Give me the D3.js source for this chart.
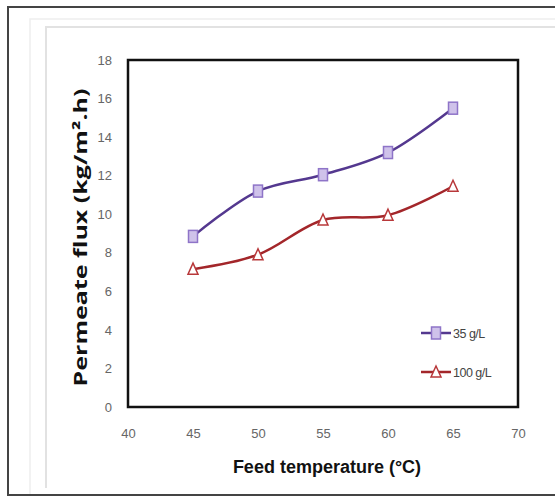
<!DOCTYPE html>
<html>
<head>
<meta charset="utf-8">
<script src="https://cdn.jsdelivr.net/npm/d3@7"></script>
<style>
  body { margin: 0; background: #fff; }
  svg { display: block; }
  .tick text { fill: #666; font-family: 'Liberation Sans Narrow', 'Liberation Sans', Arial, sans-serif; font-size: 13px; }
</style>
</head>
<body>
<div id="chart"></div>
<script>
var temps = [45, 50, 55, 60, 65];
var flux35 = [8.85, 11.2, 12.05, 13.2, 15.5];
var flux100 = [7.15, 7.9, 9.7, 9.95, 11.45];
var xTicks = [40, 45, 50, 55, 60, 65, 70];
var yTicks = [0, 2, 4, 6, 8, 10, 12, 14, 16, 18];

var width = 555, height = 497;
var plotLeft = 128, plotRight = 518, plotTop = 60, plotBottom = 407;

var svg = d3.select('#chart')
    .append('svg')
    .attr('width', width)
    .attr('height', height);

// frames round the picture
svg.append('rect')
    .attr('x', 8).attr('y', 7)
    .attr('width', 560).attr('height', 488)
    .attr('fill', 'none').attr('stroke', '#444').attr('stroke-width', 2);
svg.append('path')
    .attr('d', 'M30,494V19H560')
    .attr('fill', 'none').attr('stroke', '#eee').attr('stroke-width', 1.5);
svg.append('path')
    .attr('d', 'M46,488V27H560')
    .attr('fill', 'none').attr('stroke', '#e2e2e2').attr('stroke-width', 2);

var x = d3.scaleLinear().domain([40, 70]).range([plotLeft, plotRight]);
var y = d3.scaleLinear().domain([0, 18]).range([plotBottom, plotTop]);

svg.append('rect')
    .attr('x', plotLeft).attr('y', plotTop)
    .attr('width', plotRight - plotLeft).attr('height', plotBottom - plotTop)
    .attr('fill', 'none').attr('stroke', '#111').attr('stroke-width', 2.5);

var xAxis = svg.append('g')
    .attr('transform', `translate(0,${plotBottom})`)
    .call(d3.axisBottom(x).tickValues(xTicks).tickSize(0).tickPadding(22));
xAxis.select('.domain').remove();

var yAxis = svg.append('g')
    .attr('transform', `translate(${plotLeft},0)`)
    .call(d3.axisLeft(y).tickValues(yTicks).tickSize(0).tickPadding(16));
yAxis.select('.domain').remove();

var line = d3.line()
    .x(d => x(d[0]))
    .y(d => y(d[1]))
    .curve(d3.curveCatmullRom.alpha(0.5));

var series = [
    { name: '35 g/L', values: flux35, line: '#54388f', stroke: '#8e74c8', fill: '#cfc2ea', shape: 'square' },
    { name: '100 g/L', values: flux100, line: '#a3262a', stroke: '#b8383a', fill: '#fff', shape: 'triangle' }
];

function marker(g, s, cx, cy) {
    if (s.shape === 'square') {
        g.append('rect')
            .attr('x', cx - 4.5).attr('y', cy - 6)
            .attr('width', 9).attr('height', 12)
            .attr('fill', s.fill).attr('stroke', s.stroke).attr('stroke-width', 1.5);
    } else {
        g.append('path')
            .attr('d', `M${cx},${cy - 6}L${cx + 5},${cy + 5}L${cx - 5},${cy + 5}Z`)
            .attr('fill', s.fill).attr('stroke', s.stroke).attr('stroke-width', 1.5);
    }
}

series.forEach(function(s, i) {
    var pts = temps.map((t, j) => [t, s.values[j]]);
    svg.append('path')
        .datum(pts)
        .attr('d', line)
        .attr('fill', 'none')
        .attr('stroke', s.line)
        .attr('stroke-width', 2.5);
    var g = svg.append('g');
    pts.forEach(p => marker(g, s, x(p[0]), y(p[1])));

    // legend
    var ly = 333 + i * 39;
    svg.append('line')
        .attr('x1', 421).attr('x2', 451).attr('y1', ly).attr('y2', ly)
        .attr('stroke', s.line).attr('stroke-width', 2.5);
    marker(svg, s, 436, ly);
    svg.append('text')
        .attr('x', 453).attr('y', ly + 4.5)
        .attr('fill', '#444')
        .style('font-family', "'Liberation Sans Narrow', 'Liberation Sans', Arial, sans-serif")
        .style('font-size', '12.5px')
        .style('letter-spacing', '-0.5px')
        .text(s.name);
});

svg.append('text')
    .attr('transform', `translate(87,${(plotTop + plotBottom) / 2 + 4})rotate(-90)`)
    .attr('text-anchor', 'middle')
    .attr('fill', '#111')
    .attr('textLength', 298)
    .attr('lengthAdjust', 'spacingAndGlyphs')
    .style('font-family', "'Open Sans', 'DejaVu Sans', sans-serif")
    .style('font-weight', 'bold')
    .style('font-size', '18px')
    .text('Permeate flux (kg/m².h)');

svg.append('text')
    .attr('x', 327).attr('y', 473)
    .attr('text-anchor', 'middle')
    .attr('fill', '#111')
    .style('font-family', "'Liberation Sans Narrow', 'Liberation Sans', Arial, sans-serif")
    .style('font-weight', 'bold')
    .style('font-size', '18px')
    .text('Feed temperature (°C)');
</script>
</body>
</html>
